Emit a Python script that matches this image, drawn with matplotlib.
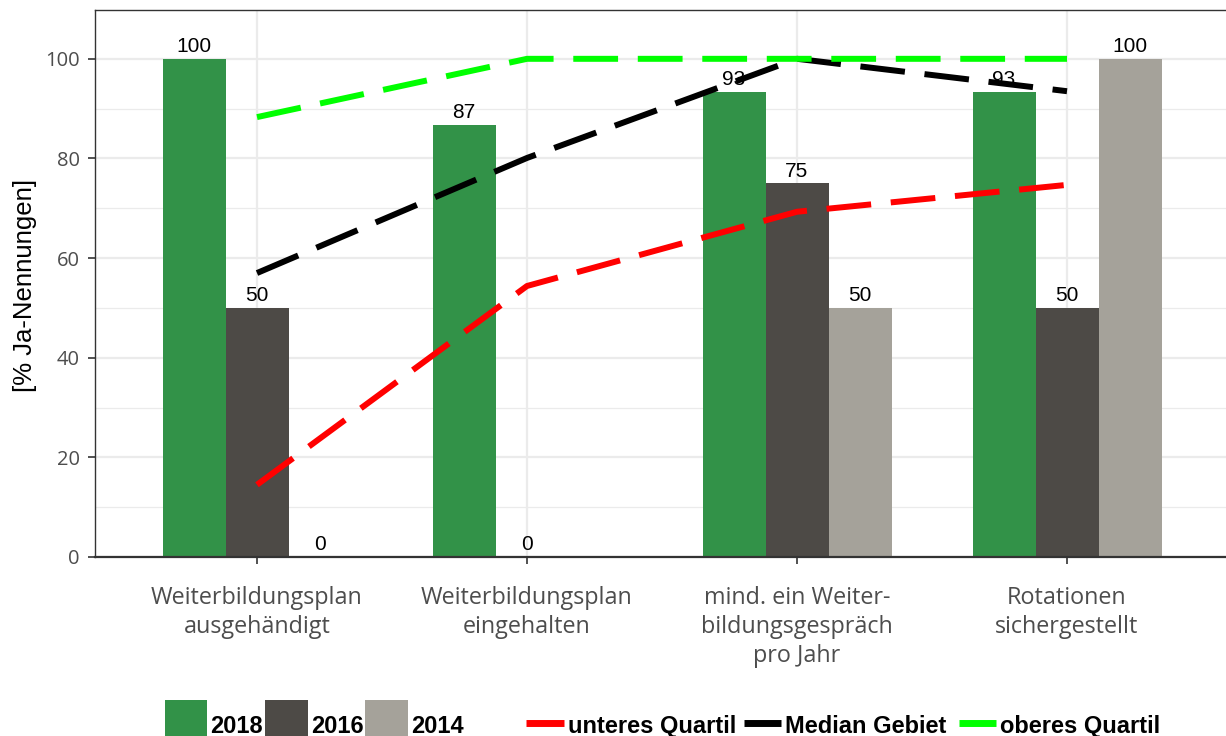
import numpy as np
import matplotlib
matplotlib.use("Agg")
import matplotlib.pyplot as plt
from matplotlib.patches import Rectangle
from matplotlib.lines import Line2D

# Daten
kategorien = ["Weiterbildungsplan\nausgehändigt",
              "Weiterbildungsplan\neingehalten",
              "mind. ein Weiter-\nbildungsgespräch\npro Jahr",
              "Rotationen\nsichergestellt"]
jahre = ["2018", "2016", "2014"]
werte_2018 = [100, 86.7, 93.3, 93.3]
werte_2016 = [50, 0, 75, 50]
werte_2014 = [0, np.nan, 50, 100]
unteres_quartil = [14.5, 54.4, 69.3, 74.7]
median_gebiet = [57.0, 80.1, 100, 93.5]
oberes_quartil = [88.3, 100, 100, 100]

bar_farben = ["#329248", "#4d4a46", "#a5a29a"]
linien = [("unteres Quartil", unteres_quartil, "#ff0000"),
          ("Median Gebiet", median_gebiet, "#000000"),
          ("oberes Quartil", oberes_quartil, "#00ff00")]

W, H = 1226, 736
fig = plt.figure(figsize=(W / 100, H / 100), dpi=100)
ax = fig.add_axes([95 / W, 1 - 557 / H, 1134 / W, 547 / H])

x = np.arange(len(kategorien))
bw = 0.7 / 3
for i, (werte, farbe) in enumerate(zip([werte_2018, werte_2016, werte_2014], bar_farben)):
    pos = x + (i - 1) * bw
    ax.bar(pos, werte, width=bw, color=farbe, zorder=2)
    for px, v in zip(pos, werte):
        if np.isnan(v):
            continue
        ax.annotate(f"{v:.0f}", (px, v), xytext=(0, 2), textcoords="offset points",
                    ha="center", va="bottom", fontsize=15, family="Liberation Sans",
                    color="black", zorder=4)

for name, werte, farbe in linien:
    ax.plot(x, werte, color=farbe, lw=4.3, dashes=(7.5, 3.3), zorder=3,
            solid_capstyle="butt", dash_capstyle="butt")

ax.set_xlim(-0.6, 3.6)
ax.set_ylim(0, 109.8)
ax.set_yticks([0, 20, 40, 60, 80, 100])
ax.set_yticks([10, 30, 50, 70, 90], minor=True)
ax.set_xticks(x)
ax.set_xticklabels(kategorien, family="Open Sans", fontsize=16.8, color="#4d4d4d",
                   linespacing=1.28)
ax.tick_params(axis="x", length=5, width=1.2, color="#333333", pad=16)
ax.tick_params(axis="y", which="major", length=5, width=1.2, color="#333333", pad=6,
               labelsize=14.5, labelcolor="#4d4d4d")
ax.tick_params(axis="y", which="minor", length=0)
for lab in ax.get_yticklabels():
    lab.set_family("Open Sans")

ax.grid(which="major", color="#ebebeb", lw=1.6, zorder=0)
ax.grid(which="minor", axis="y", color="#ebebeb", lw=0.9, zorder=0)
ax.set_axisbelow(True)
for s in ["top", "left"]:
    ax.spines[s].set_color("#333333")
    ax.spines[s].set_linewidth(1.0)
ax.spines["bottom"].set_color("#333333")
ax.spines["bottom"].set_linewidth(1.6)
ax.spines["right"].set_visible(False)

fig.text(25 / W, 1 - 285 / H, "[% Ja-Nennungen]", rotation=90, ha="center", va="center",
         fontsize=18.5, family="Liberation Sans", color="black")

# Legende
def fx(px):
    return px / W

def fy(py):
    return 1 - py / H

for (x0, x1), farbe, label in zip([(165, 207), (265, 308), (365, 408)], bar_farben, jahre):
    fig.add_artist(Rectangle((fx(x0), fy(745)), fx(x1 - x0), fy(700) - fy(745),
                             transform=fig.transFigure, color=farbe, lw=0))
    fig.text(fx(x1 + 3), fy(733), label, fontsize=17, fontweight="bold",
             family="Liberation Sans", va="baseline", ha="left")

for (x0, x1), (name, _, farbe) in zip([(526, 564), (744, 781), (959, 996)], linien):
    fig.add_artist(Line2D([fx(x0), fx(x1)], [fy(723), fy(723)], transform=fig.transFigure,
                          color=farbe, lw=5, solid_capstyle="butt"))
    fig.text(fx(x1 + 4), fy(733), name, fontsize=17, fontweight="bold",
             family="Liberation Sans", va="baseline", ha="left")

fig.savefig("out.png", dpi=100)
